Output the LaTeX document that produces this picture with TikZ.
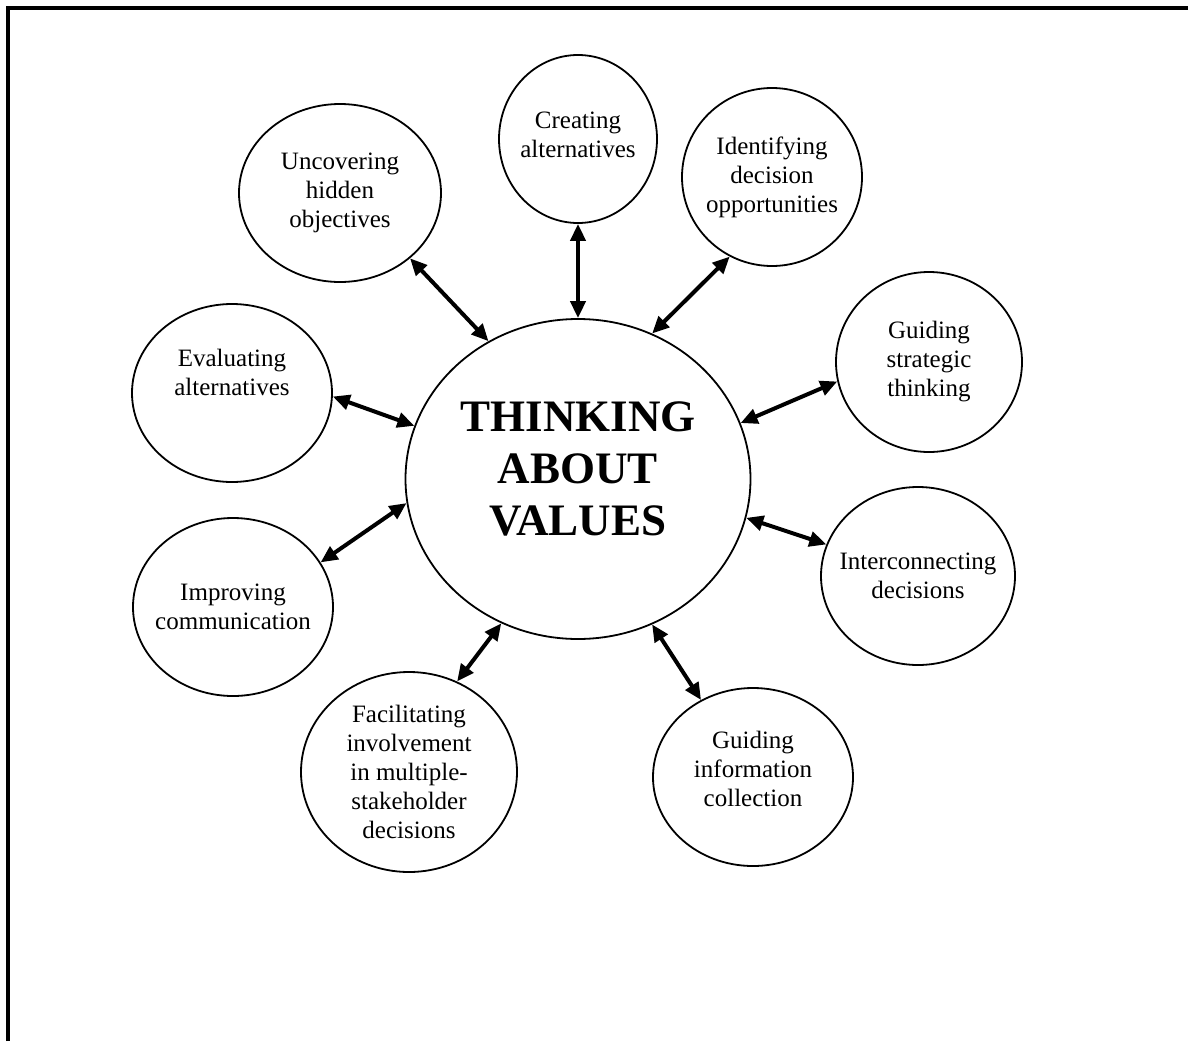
\documentclass[tikz,border=0pt]{standalone}
\usepackage{fontspec}
\setmainfont{Liberation Serif}
\usetikzlibrary{shapes.geometric,arrows.meta}
\tikzset{
	bubble/.style={draw, ellipse, line width=1.8pt, inner sep=0pt},
	bubbletext/.style={align=center, font=\fontsize{25}{29}\selectfont},
	link/.style={{Triangle[length=17pt,width=15pt]}-{Triangle[length=17pt,width=15pt]}, line width=4pt},
}
\begin{document}
\begin{tikzpicture}[x=1pt, y=-1pt]
	\useasboundingbox (0,0) rectangle (1188,1041);
	\draw[line width=4.5pt] (8,1041) -- (8,8) -- (1188,8);
	\node[bubble, minimum width=345pt, minimum height=320pt, label={[align=center, font=\fontsize{45}{52}\selectfont\bfseries, yshift=10pt]center:THINKING\\ABOUT\\VALUES}] (values) at (578,479) {};
	\node[bubble, minimum width=202pt, minimum height=178pt, label={[bubbletext]center:Uncovering\\hidden\\objectives}] (unc) at (340,193) {};
	\node[bubble, minimum width=158pt, minimum height=168pt, label={[bubbletext, yshift=4pt]center:Creating\\alternatives}] (cre) at (578,139) {};
	\node[bubble, minimum width=180pt, minimum height=178pt, label={[bubbletext]center:Identifying\\decision\\opportunities}] (ide) at (772,177) {};
	\node[bubble, minimum width=186pt, minimum height=180pt, label={[bubbletext]center:Guiding\\strategic\\thinking}] (gst) at (929,362) {};
	\node[bubble, minimum width=200pt, minimum height=178pt, label={[bubbletext, yshift=21pt]center:Evaluating\\alternatives}] (eva) at (232,393) {};
	\node[bubble, minimum width=194pt, minimum height=178pt, label={[bubbletext]center:Interconnecting\\decisions}] (icd) at (918,576) {};
	\node[bubble, minimum width=200pt, minimum height=178pt, label={[bubbletext]center:Improving\\communication}] (imp) at (233,607) {};
	\node[bubble, minimum width=216pt, minimum height=200pt, label={[bubbletext]center:Facilitating\\involvement\\in multiple-\\stakeholder\\decisions}] (fac) at (409,772) {};
	\node[bubble, minimum width=200pt, minimum height=178pt, label={[bubbletext, yshift=8pt]center:Guiding\\information\\collection}] (gic) at (753,777) {};
	\draw[link] (unc.-43) -- (values.123);
	\draw[link] (cre.south) -- (values.north);
	\draw[link] (ide.-118) -- (values.63);
	\draw[link] (gst.-168) -- (values.19);
	\draw[link] (icd.161) -- (values.-13);
	\draw[link] (gic.124) -- (values.-63);
	\draw[link] (fac.62) -- (values.-118);
	\draw[link] (imp.27) -- (values.-172);
	\draw[link] (eva.-2) -- (values.162);
\end{tikzpicture}
\end{document}
